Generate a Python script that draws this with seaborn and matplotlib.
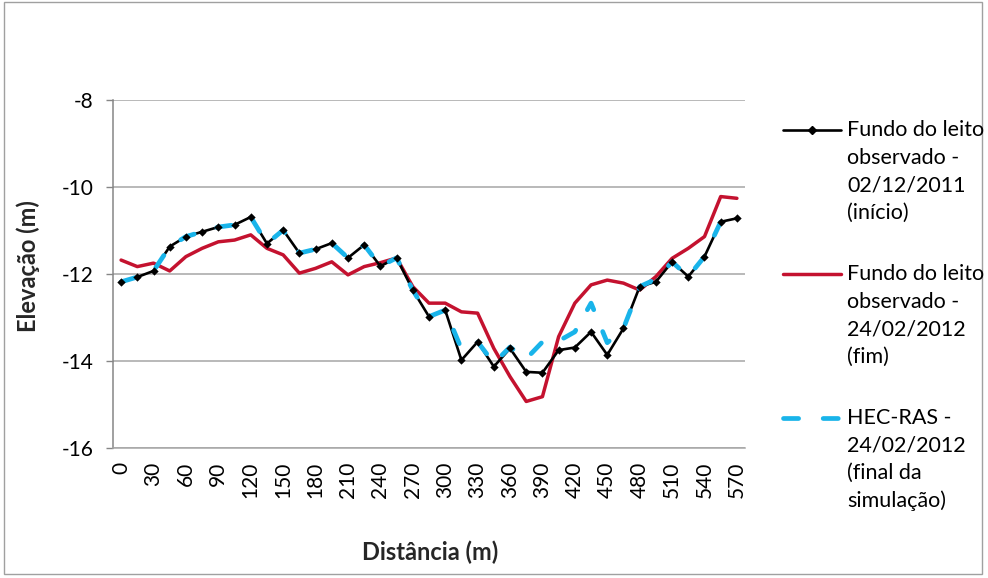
import matplotlib
matplotlib.use("Agg")
import matplotlib.pyplot as plt
import seaborn as sns
import pandas as pd
from matplotlib.lines import Line2D
from matplotlib.patches import Rectangle

# Cross-section stations (m)
distancia = [0, 15, 30, 45, 60, 75, 90, 105, 120, 135, 150, 165, 180, 195,
             210, 225, 240, 255, 270, 285, 300, 315, 330, 345, 360, 375, 390,
             405, 420, 435, 450, 465, 480, 495, 510, 525, 540, 555, 570]

# Observed bed, start of the period (02/12/2011)
fundo_inicio = [-12.18, -12.07, -11.93, -11.37, -11.14, -11.03, -10.92, -10.87,
                -10.69, -11.30, -10.99, -11.52, -11.43, -11.29, -11.63, -11.33,
                -11.82, -11.63, -12.37, -12.98, -12.83, -13.98, -13.56, -14.13,
                -13.71, -14.25, -14.27, -13.75, -13.69, -13.33, -13.86, -13.25,
                -12.29, -12.18, -11.72, -12.06, -11.60, -10.80, -10.72]

# Observed bed, end of the period (24/02/2012)
fundo_fim = [-11.68, -11.83, -11.75, -11.93, -11.60, -11.41, -11.26, -11.22,
             -11.10, -11.41, -11.56, -11.98, -11.87, -11.72, -12.02, -11.83,
             -11.74, -11.63, -12.29, -12.67, -12.67, -12.87, -12.90, -13.71,
             -14.36, -14.93, -14.82, -13.44, -12.67, -12.25, -12.14, -12.21,
             -12.37, -12.06, -11.64, -11.41, -11.14, -10.22, -10.26]

# HEC-RAS simulated bed at the end of the simulation (24/02/2012)
hec_ras = [-12.18, -12.07, -11.93, -11.37, -11.14, -11.03, -10.92, -10.87,
           -10.69, -11.30, -10.99, -11.52, -11.43, -11.29, -11.63, -11.33,
           -11.82, -11.63, -12.37, -12.98, -12.83, -13.72, -13.56, -14.05,
           -13.68, -13.95, -13.56, -13.54, -13.33, -12.67, -13.58, -13.25,
           -12.29, -12.12, -11.72, -12.06, -11.60, -10.80, -10.72]

y_ticks = [-16, -14, -12, -10, -8]
x_ticks = [0, 30, 60, 90, 120, 150, 180, 210, 240, 270, 300, 330, 360, 390,
           420, 450, 480, 510, 540, 570]

legend_labels = [
    ["Fundo do leito", "observado -", "02/12/2011", "(início)"],
    ["Fundo do leito", "observado -", "24/02/2012", "(fim)"],
    ["HEC-RAS -", "24/02/2012", "(final da", "simulação)"],
]

BLACK = "#000000"
RED = "#C4122F"
BLUE = "#19B4EA"
GRID = "#A6A6A6"
AXIS = "#868686"
DASH = (0, (3.1, 5.0))

sns.set_theme(style="white")
plt.rcParams["font.family"] = ["Lato", "DejaVu Sans"]

W, H = 988, 578
fig = plt.figure(figsize=(W / 100, H / 100), dpi=100)
fig.patch.set_facecolor("white")


def fx(px):
    return px / W


def fy(py):
    return 1 - py / H


# outer chart frame
fig.add_artist(Rectangle((fx(4), fy(574)), fx(982) - fx(4), fy(2) - fy(574),
                         transform=fig.transFigure, fill=False,
                         edgecolor="#A0A0A0", lw=1.0))

left, right, top, bottom = 113, 745, 100, 448
ax = fig.add_axes([fx(left), fy(bottom), fx(right) - fx(left), fy(top) - fy(bottom)])

df = pd.DataFrame({"dist": distancia, "inicio": fundo_inicio,
                   "fim": fundo_fim, "hec": hec_ras})

sns.lineplot(data=df, x="dist", y="fim", color=RED, lw=2.5, ax=ax, zorder=3)
sns.lineplot(data=df, x="dist", y="inicio", color=BLACK, lw=1.9, ax=ax, zorder=4)
sns.lineplot(data=df, x="dist", y="hec", color=BLUE, lw=3.4, ax=ax, zorder=5,
             linestyle=DASH, dash_capstyle="round")
sns.scatterplot(data=df, x="dist", y="inicio", color=BLACK, marker="D", s=18,
                linewidth=0, ax=ax, zorder=6)

ax.set_xlim(-7.5, 577.5)
ax.set_ylim(-16, -8)
ax.set_yticks(y_ticks)
ax.set_yticklabels([str(v) for v in y_ticks])
ax.set_xticks(x_ticks)
ax.set_xticklabels([str(v) for v in x_ticks], rotation=90)
ax.set_xlabel("")
ax.set_ylabel("")

ax.yaxis.grid(True, color=GRID, lw=1.1)
ax.xaxis.grid(False)
ax.set_axisbelow(True)
for side in ("top", "right"):
    ax.spines[side].set_visible(False)
ax.spines["left"].set_color(AXIS)
ax.spines["left"].set_linewidth(1.1)
ax.spines["bottom"].set_color(GRID)
ax.spines["bottom"].set_linewidth(1.1)

ax.tick_params(axis="y", left=True, length=5, width=1, color=AXIS, pad=9,
               labelsize=15, labelcolor="black")
ax.tick_params(axis="x", bottom=False, length=0, pad=10, labelsize=15,
               labelcolor="black")

fig.text(fx(430), fy(552), "Distância (m)", ha="center", va="center",
         fontsize=17, fontweight="bold")
fig.text(fx(28), fy(266), "Elevação (m)", ha="center", va="center",
         rotation=90, fontsize=17, fontweight="bold")

# legend, drawn entry by entry
entry_y = [130, 274, 418]
line_step = 27.6
styles = [
    dict(color=BLACK, lw=1.9),
    dict(color=RED, lw=2.5),
    dict(color=BLUE, lw=3.4, linestyle=(0, (3.2, 5.2)), dash_capstyle="round"),
]
for k, (y0, lines, st) in enumerate(zip(entry_y, legend_labels, styles)):
    fig.add_artist(Line2D([fx(783), fx(841)], [fy(y0), fy(y0)],
                          transform=fig.transFigure, **st))
    if k == 0:
        fig.add_artist(Line2D([fx(812)], [fy(y0)], transform=fig.transFigure,
                              marker="D", markersize=4.5, color=BLACK, lw=0))
    for j, txt in enumerate(lines):
        fig.text(fx(847), fy(y0 + j * line_step), txt, ha="left", va="center",
                 fontsize=15.5, color="black")

fig.savefig("out.png", dpi=100)
